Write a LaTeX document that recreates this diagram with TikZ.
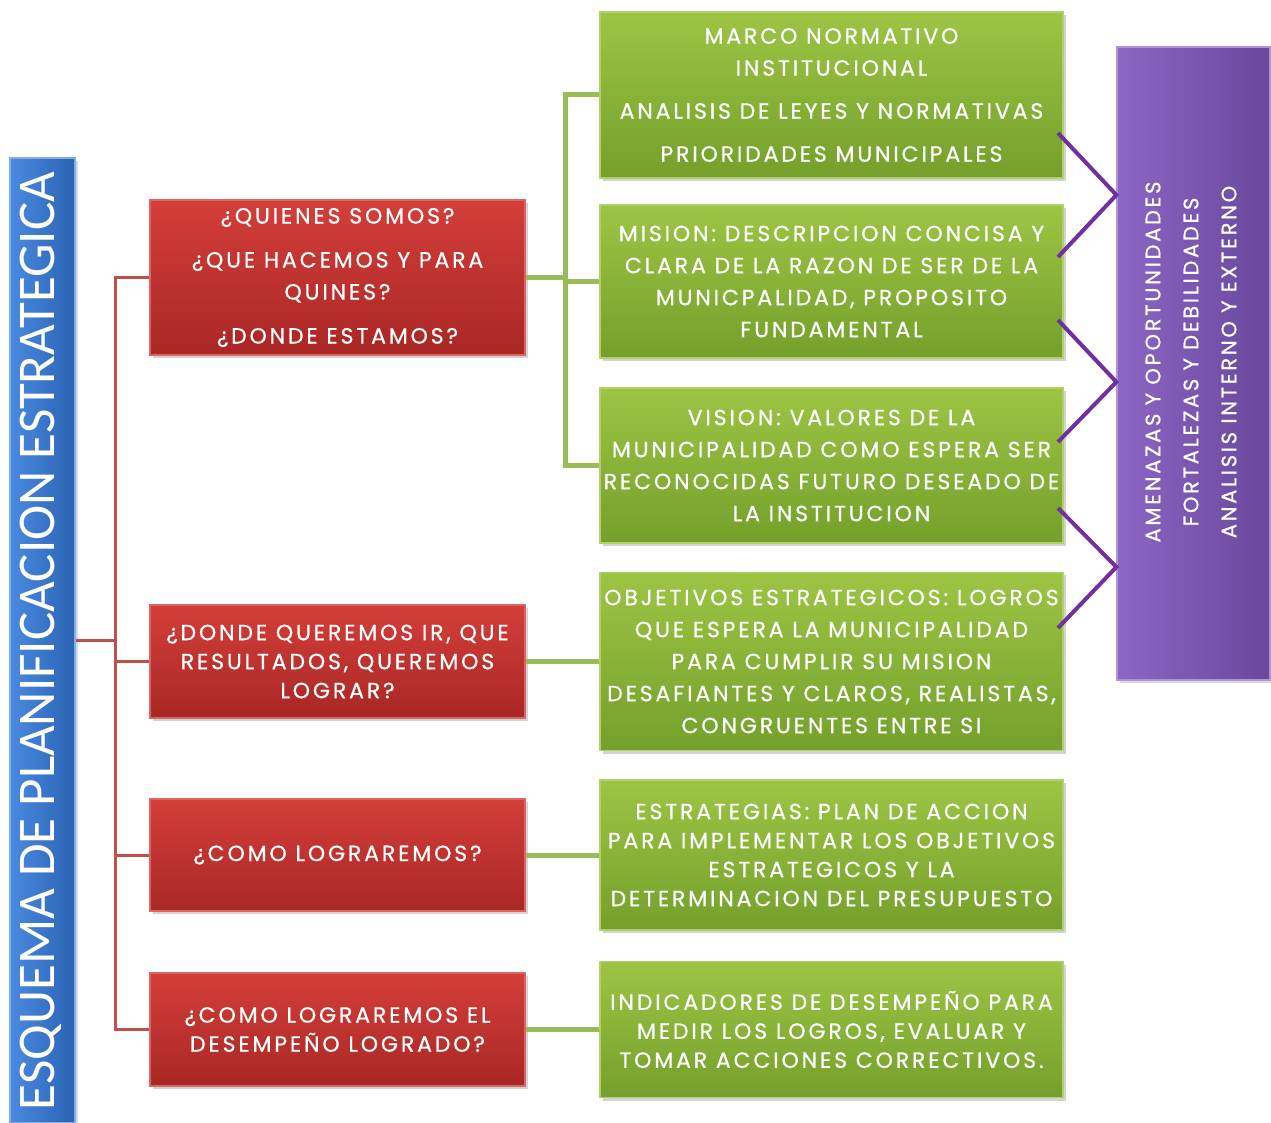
\documentclass[tikz,border=0pt]{standalone}
\usepackage{fontspec}
\setmainfont{Poppins}[LetterSpace=13, FakeBold=0.7]
\newfontfamily\titlefont{Carlito}
\usetikzlibrary{shadows}
\definecolor{redtop}{HTML}{D43E3A}
\definecolor{redbot}{HTML}{A92724}
\definecolor{grtop}{HTML}{9DC444}
\definecolor{grbot}{HTML}{74A02B}
\definecolor{bluel}{HTML}{4A8AE0}
\definecolor{bluer}{HTML}{2A63B2}
\definecolor{purl}{HTML}{8C66C4}
\definecolor{purr}{HTML}{6A479C}
\definecolor{redln}{HTML}{C0504D}
\definecolor{grln}{HTML}{9BBB59}
\definecolor{purln}{HTML}{7030A0}
\tikzset{
  box/.style={rectangle, inner sep=0pt, align=center, text=white,
    drop shadow={opacity=0.35, shadow xshift=1.5pt, shadow yshift=-1.5pt},
    font=\fontsize{11}{16}\selectfont},
  redbox/.style={box, top color=redtop, bottom color=redbot, draw=redtop!80!white, line width=0.6pt, minimum width=187.5pt},
  greenbox/.style={box, top color=grtop, bottom color=grbot, draw=grtop!80!white, line width=0.6pt, minimum width=231.5pt},
  tightlines/.style={font=\fontsize{11}{14.5}\selectfont},
  redline/.style={draw=redln, line width=1.5pt},
  greenline/.style={draw=grln, line width=2.5pt},
  purpleline/.style={draw=purln, line width=2pt, line join=miter},
}
\begin{document}
\begin{tikzpicture}[x=0.5pt, y=-0.5pt]
\path[use as bounding box] (0,0) rectangle (1271,1123);

% left title bar
\node[rectangle, inner sep=0pt, left color=bluel, right color=bluer, draw=bluel!70!white, line width=0.6pt,
  minimum width=32.5pt, minimum height=482.5pt,
  drop shadow={opacity=0.3, shadow xshift=1.5pt, shadow yshift=-1.5pt}] (blue) at (42.5,640.5) {};
\node[rotate=90, text=white, font=\titlefont\fontsize{26.5}{30}\selectfont] (bluetxt) at (40.5,641) {ESQUEMA DE PLANIFICACION ESTRATEGICA};

% purple box
\node[rectangle, inner sep=0pt, left color=purl, right color=purr, draw=purl!70!white, line width=0.6pt,
  minimum width=76.5pt, minimum height=316.5pt,
  drop shadow={opacity=0.3, shadow xshift=1.5pt, shadow yshift=-1.5pt}] (p) at (1193.5,363.5) {};
\node[rotate=90, text=white, align=center, font=\fontsize{10.5}{19}\selectfont] (ptxt) at (1191,362)
  {AMENAZAS Y OPORTUNIDADES\\FORTALEZAS Y DEBILIDADES\\ANALISIS INTERNO Y EXTERNO};

% red boxes
\node[redbox, minimum height=77.5pt] (r1) at (337.5,277.5)
  {¿QUIENES SOMOS?\\[6pt]¿QUE HACEMOS Y PARA\\QUINES?\\[6pt]¿DONDE ESTAMOS?};
\node[redbox, tightlines, minimum height=56.5pt] (r2) at (337.5,661.5)
  {¿DONDE QUEREMOS IR, QUE\\RESULTADOS, QUEREMOS\\LOGRAR?};
\node[redbox, minimum height=56pt] (r3) at (337.5,855)
  {¿COMO LOGRAREMOS?};
\node[redbox, tightlines, minimum height=56.5pt] (r4) at (337.5,1029.5)
  {¿COMO LOGRAREMOS EL\\DESEMPEÑO LOGRADO?};

% green boxes
\node[greenbox, minimum height=83pt] (g1) at (831.5,95)
  {MARCO NORMATIVO\\INSTITUCIONAL\\[5.5pt]ANALISIS DE LEYES Y NORMATIVAS\\[5.5pt]PRIORIDADES MUNICIPALES};
\node[greenbox, minimum height=76.5pt] (g2) at (831.5,281.5)
  {MISION: DESCRIPCION CONCISA Y\\CLARA DE LA RAZON DE SER DE LA\\MUNICPALIDAD, PROPOSITO\\FUNDAMENTAL};
\node[greenbox, minimum height=77.5pt] (g3) at (831.5,465.5)
  {VISION: VALORES DE LA\\MUNICIPALIDAD COMO ESPERA SER\\RECONOCIDAS FUTURO DESEADO DE\\LA INSTITUCION};
\node[greenbox, minimum height=89pt] (g4) at (831.5,661.5)
  {OBJETIVOS ESTRATEGICOS: LOGROS\\QUE ESPERA LA MUNICIPALIDAD\\PARA CUMPLIR SU MISION\\DESAFIANTES Y CLAROS, REALISTAS,\\CONGRUENTES ENTRE SI};
\node[greenbox, tightlines, minimum height=75pt] (g5) at (831.5,855)
  {ESTRATEGIAS: PLAN DE ACCION\\PARA IMPLEMENTAR LOS OBJETIVOS\\ESTRATEGICOS Y LA\\DETERMINACION DEL PRESUPUESTO};
\node[greenbox, tightlines, minimum height=68pt] (g6) at (831.5,1029.5)
  {INDICADORES DE DESEMPEÑO PARA\\MEDIR LOS LOGROS, EVALUAR Y\\TOMAR ACCIONES CORRECTIVOS.};

% red connectors
\coordinate (rs) at (115,0);
\draw[redline] (blue.east) -- (blue.east -| rs);
\draw[redline] (r1.west) -- (r1.west -| rs) -- (r4.west -| rs) -- (r4.west);
\draw[redline] (r2.west) -- (r2.west -| rs);
\draw[redline] (r3.west) -- (r3.west -| rs);

% green connectors
\coordinate (gs) at (565,0);
\draw[greenline] (r1.east) -- (r1.east -| gs);
\draw[greenline] (g1.west) -- (g1.west -| gs) -- (g3.west -| gs) -- (g3.west);
\draw[greenline] (g2.west) -- (g2.west -| gs);
\draw[greenline] (r2.east) -- (g4.west);
\draw[greenline] (r3.east) -- (g5.west);
\draw[greenline] (r4.east) -- (g6.west);

% purple chevrons
\coordinate (c1a) at (1058,133);
\coordinate (c1b) at (1058,257);
\coordinate (c2a) at (1058,320);
\coordinate (c2b) at (1058,442);
\coordinate (c3a) at (1058,508);
\coordinate (c3b) at (1058,628);
\draw[purpleline] (c1a) -- (p.west |- 0,195) -- (c1b);
\draw[purpleline] (c2a) -- (p.west |- 0,382) -- (c2b);
\draw[purpleline] (c3a) -- (p.west |- 0,567) -- (c3b);
\end{tikzpicture}
\end{document}
